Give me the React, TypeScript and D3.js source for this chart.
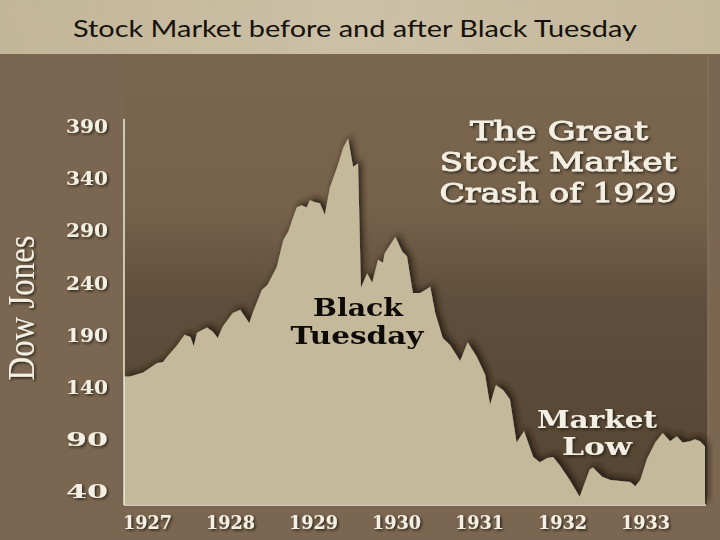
import React from "react";
import * as d3 from "d3";

const title = "Stock Market before and after Black Tuesday";
const yAxisLabel = "Dow Jones";
const yTicks = [40, 90, 140, 190, 240, 290, 340, 390];
const xTickYears = [1927, 1928, 1929, 1930, 1931, 1932, 1933];

// time as decimal years, Dow Jones index values
const years = [
  1927.0, 1927.07, 1927.23, 1927.4, 1927.47, 1927.52, 1927.64, 1927.73, 1927.8, 1927.84,
  1927.88, 1928.0, 1928.07, 1928.13, 1928.19, 1928.31, 1928.4, 1928.46, 1928.51, 1928.55,
  1928.66, 1928.73, 1928.84, 1928.92, 1928.98, 1929.04, 1929.08, 1929.14, 1929.2, 1929.24,
  1929.3, 1929.36, 1929.42, 1929.48, 1929.57, 1929.64, 1929.7, 1929.76, 1929.82, 1929.855,
  1929.93, 1929.99, 1930.06, 1930.12, 1930.14, 1930.27, 1930.35, 1930.41, 1930.48, 1930.57,
  1930.63, 1930.69, 1930.75, 1930.84, 1930.93, 1931.05, 1931.14, 1931.25, 1931.35, 1931.41,
  1931.48, 1931.57, 1931.65, 1931.73, 1931.82, 1931.93, 1932.01, 1932.1, 1932.17, 1932.25,
  1932.37, 1932.49, 1932.61, 1932.65, 1932.76, 1932.86, 1932.98, 1933.1, 1933.16, 1933.22,
  1933.3, 1933.4, 1933.49, 1933.58, 1933.66, 1933.73, 1933.82, 1933.88, 1933.94, 1934.0,
];
const dow = [
  150, 150, 154, 163, 164, 169, 180, 190, 188, 179,
  192, 197, 193, 187, 198, 211, 214, 207, 201, 211,
  233, 238, 255, 281, 289, 303, 312, 314, 312, 319,
  317, 316, 305, 331, 351, 369, 378, 351, 354, 235,
  249, 240, 262, 259, 268, 284, 270, 265, 230, 230,
  233, 236, 211, 187, 180, 165, 183, 169, 152, 123,
  142, 137, 128, 87, 98, 73, 68, 72, 73, 65,
  51, 35, 61, 63, 54, 51, 50, 49, 45, 51,
  71, 87, 96, 88, 93, 87, 88, 90, 88, 83,
];

const W = 720;
const H = 540;

export default function App() {
  const x = d3.scaleLinear().domain([1927, 1934]).range([124, 705]);
  const y = d3.scaleLinear().domain([28, 390]).range([504, 126]);
  const data = years.map((t, i) => ({ t, v: dow[i] }));
  const area = d3
    .area<{ t: number; v: number }>()
    .x((d) => x(d.t))
    .y0(y(28))
    .y1((d) => y(d.v))
    .curve(d3.curveLinear);

  const serif = "'DejaVu Serif', serif";
  const libSerif = "'Liberation Serif', serif";
  const cream = "#f4efe3";

  return (
    <svg
      width={W}
      height={H}
      viewBox={`0 0 ${W} ${H}`}
      style={{ position: "absolute", left: 0, top: 0, display: "block" }}
    >
      <defs>
        <linearGradient id="plotBg" x1="0" y1="0" x2="0" y2="1">
          <stop offset="0" stopColor="#7b6750" />
          <stop offset="0.35" stopColor="#76624b" />
          <stop offset="0.55" stopColor="#5f4e3b" />
          <stop offset="1" stopColor="#554533" />
        </linearGradient>
        <linearGradient id="parch" x1="0" y1="0" x2="1" y2="0">
          <stop offset="0" stopColor="#c3b699" />
          <stop offset="0.5" stopColor="#cdc1a6" />
          <stop offset="1" stopColor="#c5b89b" />
        </linearGradient>
        <filter id="noise" x="0" y="0" width="100%" height="100%">
          <feTurbulence type="fractalNoise" baseFrequency="0.02" numOctaves="3" seed="4" />
          <feColorMatrix type="matrix" values="0 0 0 0 0.5  0 0 0 0 0.45  0 0 0 0 0.35  0 0 0 0.18 0" />
        </filter>
        <filter id="areaShadow" x="-10%" y="-10%" width="120%" height="120%">
          <feDropShadow dx="3" dy="-3" stdDeviation="3" floodColor="#1a120a" floodOpacity="0.85" />
        </filter>
        <filter id="textShadow" x="-20%" y="-20%" width="140%" height="140%">
          <feDropShadow dx="1.5" dy="1.5" stdDeviation="1" floodColor="#1e150c" floodOpacity="0.8" />
        </filter>
      </defs>

      {/* frame background */}
      <rect x={0} y={0} width={W} height={H} fill="#7b6751" />
      <rect x={124} y={54} width={584} height={451} fill="url(#plotBg)" />
      <line x1={708} x2={708} y1={54} y2={505} stroke="#85705a" strokeWidth={1.5} />

      {/* top parchment band */}
      <rect x={0} y={0} width={W} height={54} fill="url(#parch)" />
      <rect x={0} y={0} width={W} height={54} filter="url(#noise)" />
      <text
        x={355}
        y={37}
        textAnchor="middle"
        fontFamily="Lato, sans-serif"
        fontSize={24}
        fill="#15110c"
        textLength={564}
        lengthAdjust="spacingAndGlyphs"
      >
        {title}
      </text>

      {/* area */}
      <path d={area(data) || ""} fill="#c5b99b" filter="url(#areaShadow)" />

      {/* axes */}
      <line x1={124} x2={124} y1={119} y2={505} stroke="#eee8da" strokeWidth={1.5} />
      <line x1={124} x2={706} y1={505} y2={505} stroke="#eee8da" strokeWidth={1.5} />

      <g filter="url(#textShadow)">
        {yTicks.map((v) => (
          <text
            key={v}
            x={108}
            y={y(v) + 7}
            textAnchor="end"
            fontFamily={serif}
            fontWeight="bold"
            fontSize={19}
            fill={cream}
            textLength={42}
            lengthAdjust="spacingAndGlyphs"
          >
            {v}
          </text>
        ))}
        {xTickYears.map((yr) => (
          <text
            key={yr}
            x={x(yr) - 1}
            y={529}
            textAnchor="start"
            fontFamily={serif}
            fontWeight="bold"
            fontSize={18}
            fill={cream}
            textLength={49}
            lengthAdjust="spacingAndGlyphs"
          >
            {yr}
          </text>
        ))}
        <text
          transform="translate(34,308) rotate(-90)"
          textAnchor="middle"
          fontFamily={libSerif}
          fontSize={37}
          fill={cream}
          textLength={145}
          lengthAdjust="spacingAndGlyphs"
        >
          {yAxisLabel}
        </text>

        {/* headline */}
        <text x={559} y={140} textAnchor="middle" fontFamily={serif} fontSize={26} fill={cream} stroke={cream} strokeWidth={0.8} textLength={178} lengthAdjust="spacingAndGlyphs">
          The Great
        </text>
        <text x={558} y={171} textAnchor="middle" fontFamily={serif} fontSize={26} fill={cream} stroke={cream} strokeWidth={0.8} textLength={237} lengthAdjust="spacingAndGlyphs">
          Stock Market
        </text>
        <text x={558} y={202} textAnchor="middle" fontFamily={serif} fontSize={26} fill={cream} stroke={cream} strokeWidth={0.8} textLength={237} lengthAdjust="spacingAndGlyphs">
          Crash of 1929
        </text>

        {/* Market Low */}
        <text x={597} y={428} textAnchor="middle" fontFamily={serif} fontWeight="bold" fontSize={25} fill={cream} textLength={120} lengthAdjust="spacingAndGlyphs">
          Market
        </text>
        <text x={597} y={455} textAnchor="middle" fontFamily={serif} fontWeight="bold" fontSize={25} fill={cream} textLength={70} lengthAdjust="spacingAndGlyphs">
          Low
        </text>
      </g>

      {/* Black Tuesday */}
      <text x={358} y={316} textAnchor="middle" fontFamily={serif} fontWeight="bold" fontSize={25} fill="#0d0a07" textLength={90} lengthAdjust="spacingAndGlyphs">
        Black
      </text>
      <text x={357} y={344} textAnchor="middle" fontFamily={serif} fontWeight="bold" fontSize={25} fill="#0d0a07" textLength={133} lengthAdjust="spacingAndGlyphs">
        Tuesday
      </text>
    </svg>
  );
}
